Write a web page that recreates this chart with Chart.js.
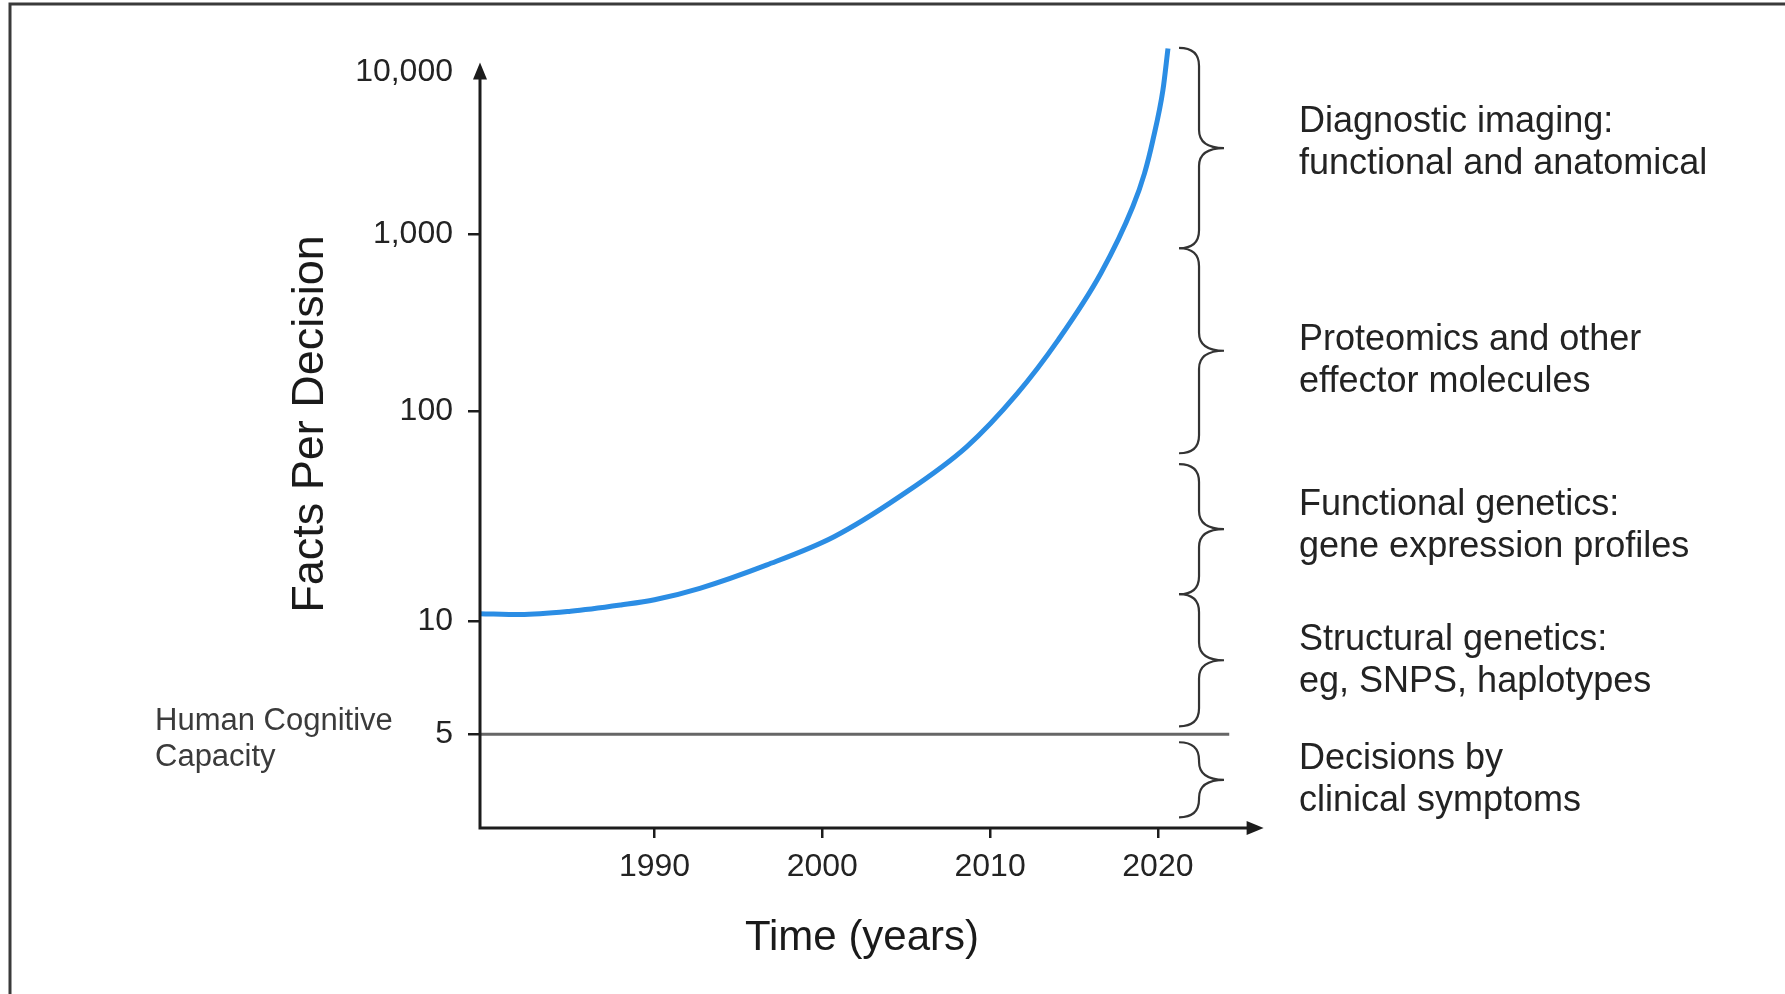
<!DOCTYPE html>
<html>
<head>
<meta charset="utf-8">
<title>Facts Per Decision</title>
<script src="https://cdn.jsdelivr.net/npm/chart.js@4.4.1/dist/chart.umd.min.js"></script>
<style>
  html, body { margin: 0; padding: 0; background: #fff; }
</style>
</head>
<body>
<canvas id="myChart" width="1785" height="994"></canvas>
<script>
"use strict";

// Data
const years = [1979.6, 1982, 1985, 1988, 1990, 1992.7, 1996.7, 2000.7, 2004.6, 2008.6, 2011.6, 2014.05, 2016.6, 2018.5, 2019.2, 2019.7, 2020.3, 2020.6];
const factsPerDecision = [10.9, 10.8, 11.2, 12.0, 12.7, 14.4, 18.6, 25.3, 39.2, 67.6, 125, 252, 603, 1480, 2375, 3800, 7730, 13900];

const capacityYears = [1979.6, 2024.25];
const capacityValue = 5;

const yTickValues = [5, 10, 100, 1000, 10000];
const xTickValues = [1990, 2000, 2010, 2020];

// each brace covers a range of facts per decision (top, bottom)
const braceRanges = [[14000, 836], [836, 63], [56, 13.5], [13.5, 5.25], [4.76, 3.0]];
const braceLabels = [
    ["Diagnostic imaging:", "functional and anatomical"],
    ["Proteomics and other", "effector molecules"],
    ["Functional genetics:", "gene expression profiles"],
    ["Structural genetics:", "eg, SNPS, haplotypes"],
    ["Decisions by", "clinical symptoms"],
];
const capacityLabel = ["Human Cognitive", "Capacity"];

// label nudges (px) so the text sits where the figure has it
const braceLabelShift = [-5, 10, -3, 1, 0];

// The figure does not space its decades evenly, so a log scale with stretch stops
class StretchedLogScale extends Chart.Scale {
    static id = "stretchedLog";
    static defaults = {};

    determineDataLimits() {
        const stops = this.options.stops;
        this.min = stops[0][0];
        this.max = stops[stops.length - 1][0];
    }

    buildTicks() {
        return this.options.tickValues.map((v) => ({ value: v }));
    }

    getLabelForValue(value) {
        return value.toLocaleString("en-US");
    }

    decimalFor(value) {
        const stops = this.options.stops;
        let i = 1;
        while (i < stops.length - 1 && value > stops[i][0]) i++;
        const [v0, f0] = stops[i - 1];
        const [v1, f1] = stops[i];
        const t = (Math.log10(value) - Math.log10(v0)) / (Math.log10(v1) - Math.log10(v0));
        return f0 + t * (f1 - f0);
    }

    getPixelForValue(value) {
        return this.getPixelForDecimal(this.decimalFor(value));
    }

    getValueForPixel(pixel) {
        const d = this.getDecimalForPixel(pixel);
        const stops = this.options.stops;
        let i = 1;
        while (i < stops.length - 1 && d > stops[i][1]) i++;
        const [v0, f0] = stops[i - 1];
        const [v1, f1] = stops[i];
        const t = (d - f0) / (f1 - f0);
        return Math.pow(10, Math.log10(v0) + t * (Math.log10(v1) - Math.log10(v0)));
    }
}
Chart.register(StretchedLogScale);

const AXIS_COLOR = "#1c1c1c";
const TEXT_COLOR = "#232323";
const Y_ARROW_VALUE = 11400;
const X_ARROW_YEAR = 2026.3;
const BRACE_YEAR = 2022.45;

function drawBrace(ctx, x0, yTop, yBot) {
    const mid = (yTop + yBot) / 2;
    const r = Math.min(18, (yBot - yTop) / 4);
    ctx.beginPath();
    ctx.moveTo(x0 - 20, yTop);
    ctx.quadraticCurveTo(x0, yTop, x0, yTop + r);
    ctx.lineTo(x0, mid - r);
    ctx.quadraticCurveTo(x0, mid, x0 + 25, mid);
    ctx.quadraticCurveTo(x0, mid, x0, mid + r);
    ctx.lineTo(x0, yBot - r);
    ctx.quadraticCurveTo(x0, yBot, x0 - 20, yBot);
    ctx.stroke();
}

const decor = {
    id: "decor",
    afterDraw(chart) {
        const { ctx, chartArea, scales } = chart;
        const x = scales.x;
        const y = scales.y;
        ctx.save();

        // frame of the original figure
        ctx.strokeStyle = "#3a3a3a";
        ctx.lineWidth = 3;
        ctx.beginPath();
        ctx.moveTo(10, chart.height);
        ctx.lineTo(10, 4);
        ctx.lineTo(chart.width, 4);
        ctx.stroke();

        // axes with arrows
        const x0 = chartArea.left;
        const y0 = chartArea.bottom;
        const yTip = y.getPixelForValue(Y_ARROW_VALUE);
        const xTip = x.getPixelForValue(X_ARROW_YEAR);
        ctx.strokeStyle = AXIS_COLOR;
        ctx.fillStyle = AXIS_COLOR;
        ctx.lineWidth = 3;
        ctx.beginPath();
        ctx.moveTo(x0, yTip + 12);
        ctx.lineTo(x0, y0);
        ctx.lineTo(xTip - 12, y0);
        ctx.stroke();
        ctx.beginPath();
        ctx.moveTo(x0, yTip);
        ctx.lineTo(x0 - 7, yTip + 17);
        ctx.lineTo(x0 + 7, yTip + 17);
        ctx.closePath();
        ctx.fill();
        ctx.beginPath();
        ctx.moveTo(xTip, y0);
        ctx.lineTo(xTip - 17, y0 - 7);
        ctx.lineTo(xTip - 17, y0 + 7);
        ctx.closePath();
        ctx.fill();

        // braces and their labels
        const bx = x.getPixelForValue(BRACE_YEAR);
        ctx.strokeStyle = "#333";
        ctx.lineWidth = 2.2;
        ctx.font = "36px 'Liberation Sans', Arial, sans-serif";
        ctx.textAlign = "left";
        ctx.textBaseline = "middle";
        braceRanges.forEach((range, i) => {
            const top = y.getPixelForValue(range[0]);
            const bot = y.getPixelForValue(range[1]);
            drawBrace(ctx, bx, top, bot);
            const mid = (top + bot) / 2 + braceLabelShift[i];
            ctx.fillStyle = TEXT_COLOR;
            ctx.fillText(braceLabels[i][0], bx + 100, mid - 21);
            ctx.fillText(braceLabels[i][1], bx + 100, mid + 21);
        });

        // capacity label
        const yc = y.getPixelForValue(capacityValue);
        ctx.font = "31px 'Liberation Sans', Arial, sans-serif";
        ctx.fillStyle = "#3b3b3b";
        ctx.fillText(capacityLabel[0], 155, yc - 13);
        ctx.fillText(capacityLabel[1], 155, yc + 23);

        ctx.restore();
    },
};

// Setup
Chart.defaults.font.family = "'Liberation Sans', Arial, sans-serif";
Chart.defaults.color = TEXT_COLOR;

const data = {
    datasets: [
        {
            label: "Facts per decision",
            data: years.map((yr, i) => ({ x: yr, y: factsPerDecision[i] })),
            borderColor: "#2b8de4",
            borderWidth: 5,
            pointRadius: 0,
            cubicInterpolationMode: "monotone",
            clip: false,
        },
        {
            label: "Human cognitive capacity",
            data: capacityYears.map((yr) => ({ x: yr, y: capacityValue })),
            borderColor: "#666666",
            borderWidth: 3,
            pointRadius: 0,
        },
    ],
};

// Config
const config = {
    type: "line",
    data: data,
    plugins: [decor],
    options: {
        responsive: false,
        animation: false,
        events: [],
        layout: {
            padding: { top: 20, right: 541, left: 0, bottom: 0 },
        },
        plugins: {
            legend: { display: false },
            tooltip: { enabled: false },
        },
        scales: {
            x: {
                type: "linear",
                position: "bottom",
                min: 1979.6,
                max: 2025.13,
                afterBuildTicks: (scale) => {
                    scale.ticks = xTickValues.map((v) => ({ value: v }));
                },
                afterFit: (scale) => {
                    scale.height = 166;
                    scale.paddingLeft = 0;
                    scale.paddingRight = 0;
                },
                ticks: {
                    autoSkip: false,
                    maxRotation: 0,
                    padding: 10,
                    color: TEXT_COLOR,
                    font: { size: 32 },
                    callback: (value) => String(value),
                },
                grid: {
                    drawOnChartArea: false,
                    tickLength: 10,
                    lineWidth: 2.5,
                    tickColor: AXIS_COLOR,
                },
                border: { display: false },
                title: {
                    display: true,
                    text: "Time (years)",
                    color: "#1a1a1a",
                    font: { size: 42 },
                    padding: { top: 0, bottom: 30 },
                },
            },
            y: {
                type: "stretchedLog",
                position: "left",
                stops: [[2.81, 0], [5, 0.116], [10, 0.2554], [100, 0.5161], [1000, 0.7345], [10000, 0.936], [20780, 1]],
                tickValues: yTickValues,
                afterFit: (scale) => {
                    scale.width = 480;
                    scale.paddingTop = 0;
                    scale.paddingBottom = 0;
                },
                ticks: {
                    padding: 15,
                    color: TEXT_COLOR,
                    font: { size: 32 },
                    callback: (value) => value.toLocaleString("en-US"),
                },
                grid: {
                    drawOnChartArea: false,
                    tickLength: 12,
                    lineWidth: 2.5,
                    tickColor: (ctx) => (ctx.tick && ctx.tick.value === 10000 ? "rgba(0,0,0,0)" : AXIS_COLOR),
                },
                border: { display: false },
                title: {
                    display: true,
                    text: "Facts Per Decision",
                    color: "#1a1a1a",
                    font: { size: 45 },
                    padding: { top: 284, bottom: 0 },
                },
            },
        },
    },
};

const myChart = new Chart(document.getElementById("myChart"), config);
</script>
</body>
</html>
